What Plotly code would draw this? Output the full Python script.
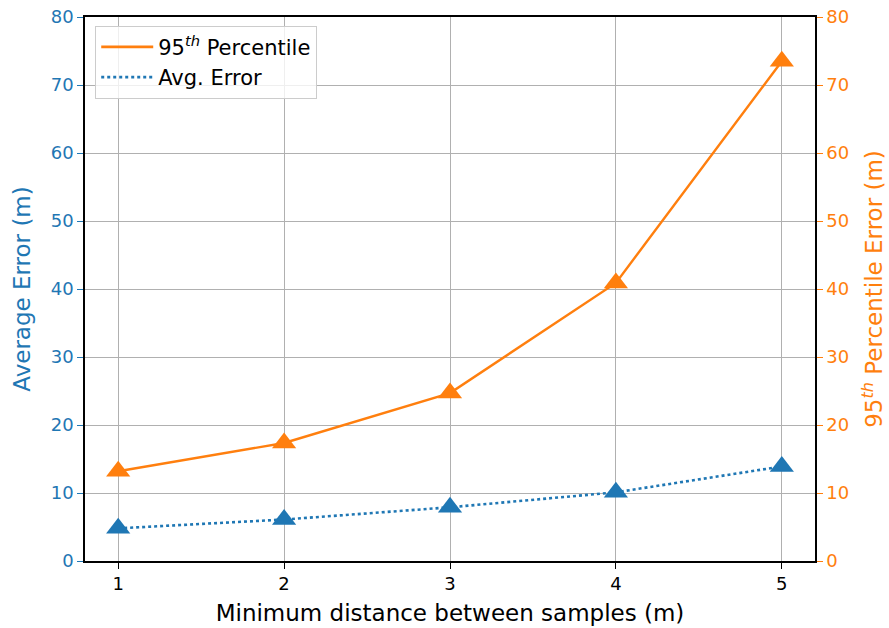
import plotly.graph_objects as go

x_vals = [1, 2, 3, 4, 5]
p95_err = [13.2, 17.35, 24.7, 40.9, 73.5]
avg_err = [4.8, 6.1, 7.9, 10.1, 13.9]
ticks_y = [0, 10, 20, 30, 40, 50, 60, 70, 80]

BLUE = "#1f77b4"
ORANGE = "#ff7f0e"
FONT = "DejaVu Sans"
P95_NAME = "95<sup><i>th</i></sup> Percentile"
AVG_NAME = "Avg. Error"

fig = go.Figure()
fig.add_trace(go.Scatter(
    x=x_vals, y=p95_err, yaxis="y2", mode="lines+markers", showlegend=False,
    name=P95_NAME,
    line=dict(color=ORANGE, width=2.4),
    marker=dict(symbol="triangle-up", size=21, color=ORANGE),
))
fig.add_trace(go.Scatter(
    x=x_vals, y=avg_err, yaxis="y", mode="lines+markers", showlegend=False,
    name=AVG_NAME,
    line=dict(color=BLUE, width=2.6, dash="dot"),
    marker=dict(symbol="triangle-up", size=21, color=BLUE),
))
# legend entries (line only, as in the reference)
fig.add_trace(go.Scatter(x=[None], y=[None], mode="lines", name=P95_NAME,
                         line=dict(color=ORANGE, width=2.6)))
fig.add_trace(go.Scatter(x=[None], y=[None], mode="lines", name=AVG_NAME,
                         line=dict(color=BLUE, width=2.6, dash="dot")))

fig.update_layout(
    width=889, height=628,
    margin=dict(l=85, r=74, t=17, b=67),
    paper_bgcolor="white", plot_bgcolor="white",
    font=dict(family=FONT, size=18, color="black"),
    showlegend=True,
    legend=dict(x=0.014, y=0.984, xanchor="left", yanchor="top",
                bgcolor="rgba(255,255,255,0.8)", bordercolor="#cccccc", borderwidth=1,
                font=dict(family=FONT, size=21), traceorder="normal",
                itemwidth=52, tracegroupgap=4),
    xaxis=dict(
        range=[0.8, 5.2], tickvals=x_vals, ticks="outside", ticklen=6, tickcolor="black",
        showgrid=True, gridcolor="#b0b0b0", gridwidth=1.4,
        showline=True, linecolor="black", linewidth=1.5, mirror=True,
        zeroline=False, automargin=False,
        tickfont=dict(family=FONT, size=18, color="black"),
        title=dict(text="Minimum distance between samples (m)", font=dict(family=FONT, size=23), standoff=12),
    ),
    yaxis=dict(
        range=[0, 80], tickvals=ticks_y, ticks="outside", ticklen=6, tickcolor=BLUE,
        showgrid=True, gridcolor="#b0b0b0", gridwidth=1.4,
        showline=True, linecolor="black", linewidth=1.5,
        zeroline=False, automargin=False,
        tickfont=dict(family=FONT, size=18, color=BLUE),
        title=dict(text="Average Error (m)", font=dict(family=FONT, size=23, color=BLUE), standoff=14),
    ),
    yaxis2=dict(
        range=[0, 80], tickvals=ticks_y, ticks="outside", ticklen=6, tickcolor=ORANGE,
        overlaying="y", side="right", showgrid=False,
        showline=True, linecolor="black", linewidth=1.5,
        zeroline=False, automargin=False,
        tickfont=dict(family=FONT, size=18, color=ORANGE),
        title=dict(text="95<sup><i>th</i></sup> Percentile Error (m)", font=dict(family=FONT, size=23, color=ORANGE), standoff=18),
    ),
)

fig.write_html("out.html")
